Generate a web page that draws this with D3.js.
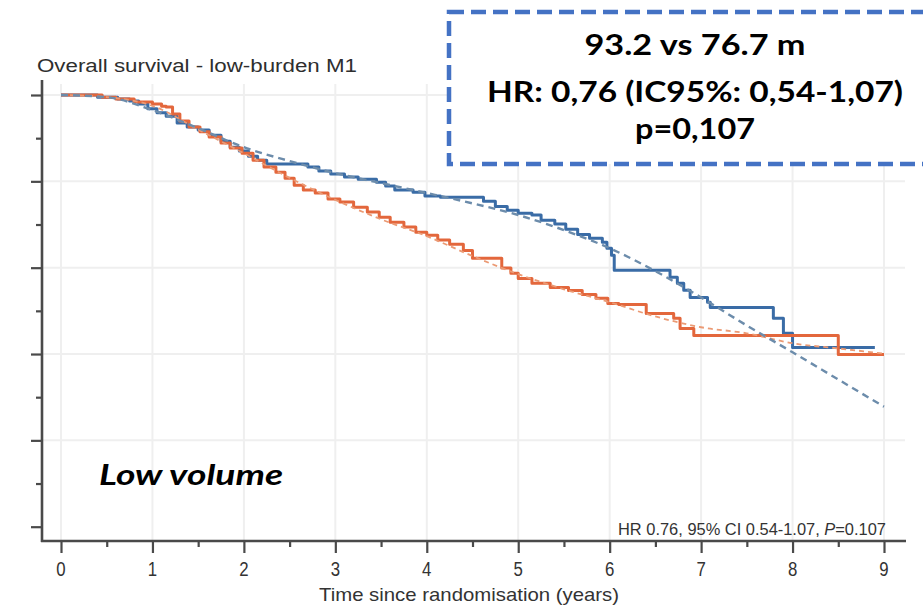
<!DOCTYPE html>
<html>
<head>
<meta charset="utf-8">
<script src="https://cdn.jsdelivr.net/npm/d3@7"></script>
<style>
  html, body { margin: 0; padding: 0; background: #fff; }
  svg { display: block; }
</style>
</head>
<body>
<svg id="chart" width="923" height="608"></svg>
<script>
// Kaplan-Meier steps: [years, survival] — survival holds from that time on
const blueSteps = [
  [0, 1.000], [0.40, 0.995], [0.62, 0.991], [0.75, 0.986], [0.85, 0.979], [0.95, 0.968],
  [1.05, 0.959], [1.15, 0.951], [1.27, 0.935], [1.38, 0.926], [1.50, 0.919], [1.62, 0.907],
  [1.75, 0.893], [1.85, 0.879], [1.95, 0.870], [2.05, 0.858], [2.15, 0.849], [2.25, 0.840],
  [2.70, 0.833], [2.82, 0.824], [2.95, 0.817], [3.10, 0.810], [3.25, 0.805], [3.45, 0.798],
  [3.55, 0.789], [3.65, 0.780], [3.85, 0.775], [3.98, 0.766], [4.15, 0.763], [4.62, 0.754],
  [4.75, 0.742], [4.88, 0.733], [5.00, 0.726], [5.15, 0.722], [5.25, 0.710], [5.40, 0.701],
  [5.52, 0.689], [5.65, 0.677], [5.78, 0.668], [5.92, 0.659], [5.97, 0.645], [6.02, 0.629],
  [6.05, 0.594], [6.66, 0.578], [6.74, 0.564], [6.81, 0.548], [6.88, 0.531], [7.07, 0.520],
  [7.10, 0.508], [7.79, 0.483], [7.90, 0.448], [8.00, 0.415]
];
const blueEnd = 8.9;

const orangeSteps = [
  [0, 1.000], [0.45, 0.995], [0.60, 0.991], [0.80, 0.984], [1.00, 0.979], [1.10, 0.974],
  [1.15, 0.972], [1.22, 0.956], [1.30, 0.940], [1.40, 0.926], [1.52, 0.915], [1.62, 0.903],
  [1.75, 0.889], [1.85, 0.877], [1.98, 0.865], [2.10, 0.849], [2.22, 0.833], [2.35, 0.821],
  [2.45, 0.807], [2.55, 0.791], [2.65, 0.780], [2.78, 0.773], [2.92, 0.759], [3.05, 0.752],
  [3.20, 0.740], [3.35, 0.729], [3.48, 0.717], [3.60, 0.705], [3.75, 0.694], [3.88, 0.682],
  [4.00, 0.675], [4.12, 0.664], [4.25, 0.654], [4.40, 0.640], [4.50, 0.622], [4.82, 0.599],
  [4.92, 0.587], [5.00, 0.575], [5.15, 0.564], [5.35, 0.554], [5.55, 0.547], [5.70, 0.538],
  [5.85, 0.529], [5.98, 0.517], [6.10, 0.515], [6.40, 0.494], [6.70, 0.483], [6.77, 0.459],
  [6.92, 0.443], [8.50, 0.399]
];
const orangeEnd = 9.0;

// Fitted (model) survival curves, sampled every half year
const fitTimes  = [0, 0.5, 1, 1.5, 2, 2.5, 3, 3.5, 4, 4.5, 5, 5.5, 6, 6.5, 7, 7.5, 8, 8.5, 9];
const blueFit   = [1.000, 0.995, 0.965, 0.923, 0.879, 0.847, 0.819, 0.796, 0.773, 0.749, 0.722,
                   0.687, 0.645, 0.592, 0.531, 0.466, 0.404, 0.341, 0.278];
const orangeFit = [1.000, 0.995, 0.975, 0.920, 0.865, 0.808, 0.757, 0.712, 0.673, 0.627, 0.585,
                   0.550, 0.520, 0.487, 0.462, 0.448, 0.425, 0.413, 0.401];

const xTickLabels = ["0", "1", "2", "3", "4", "5", "6", "7", "8", "9"];

const titleText = "Overall survival - low-burden M1";
const xAxisTitle = "Time since randomisation (years)";
const statsNote = ["HR 0.76, 95% CI 0.54-1.07, ", "P", "=0.107"];
const groupLabel = "Low volume";
const boxLines = ["93.2 vs 76.7 m", "HR: 0,76 (IC95%: 0,54-1,07)", "p=0,107"];

const BLUE = "#3a6ca6", ORANGE = "#e3673c";
const BLUE_FIT = "#6c8cab", ORANGE_FIT = "#eb9a74";
const AXIS = "#4a4a4a", GRID = "#efefef", TEXT = "#333333";
const FONT = "Liberation Sans, Arial, sans-serif";

const svg = d3.select("#chart");

const x = d3.scaleLinear().domain([0, 9]).range([61, 884]);
const y = d3.scaleLinear().domain([0, 1]).range([526.7, 95]);
const axisX = 42, axisY = 541;

// grid
const grid = svg.append("g");
grid.selectAll("line.v").data(d3.range(0, 10)).join("line")
  .attr("x1", d => x(d)).attr("x2", d => x(d))
  .attr("y1", 84).attr("y2", axisY)
  .attr("stroke", GRID).attr("stroke-width", 2);
grid.selectAll("line.h").data([0.2, 0.4, 0.6, 0.8, 1.0]).join("line")
  .attr("x1", axisX).attr("x2", 905)
  .attr("y1", d => y(d)).attr("y2", d => y(d))
  .attr("stroke", GRID).attr("stroke-width", 2);

// y axis (unlabelled ticks every 0.1)
const yAxis = d3.axisLeft(y).tickValues(d3.range(0, 11).map(i => i / 10)).tickFormat("").tickSizeOuter(0);
const gy = svg.append("g").attr("transform", `translate(${axisX},0)`).call(yAxis);
gy.select(".domain").remove();
gy.selectAll(".tick line")
  .attr("x2", (d, i) => (i % 2 === 0 ? -11 : -6))
  .attr("stroke", AXIS).attr("stroke-width", 2.2);

// x axis (ticks every half year, labels on whole years)
const xAxis = d3.axisBottom(x).tickValues(d3.range(0, 19).map(i => i / 2)).tickFormat("").tickSizeOuter(0);
const gx = svg.append("g").attr("transform", `translate(0,${axisY})`).call(xAxis);
gx.select(".domain").remove();
gx.selectAll(".tick line")
  .attr("y2", (d, i) => (i % 2 === 0 ? 12 : 6))
  .attr("stroke", AXIS).attr("stroke-width", 2.2);

svg.append("line").attr("x1", axisX).attr("x2", axisX).attr("y1", 80).attr("y2", axisY + 1)
  .attr("stroke", AXIS).attr("stroke-width", 2.6);
svg.append("line").attr("x1", axisX - 1).attr("x2", 906).attr("y1", axisY).attr("y2", axisY)
  .attr("stroke", AXIS).attr("stroke-width", 2.6);

// whole-year labels, drawn narrow and tall
svg.append("g").selectAll("g").data(xTickLabels).join("g")
  .attr("transform", (d, i) => `translate(${x(i)},576) scale(0.8,1)`)
  .append("text")
  .attr("text-anchor", "middle")
  .attr("font-family", FONT)
  .attr("font-size", 21).attr("fill", TEXT)
  .text(d => d);

svg.append("text")
  .attr("x", 469).attr("y", 601).attr("text-anchor", "middle")
  .attr("font-family", FONT)
  .attr("font-size", 18.5).attr("fill", TEXT)
  .attr("textLength", 300).attr("lengthAdjust", "spacingAndGlyphs")
  .text(xAxisTitle);

svg.append("text")
  .attr("x", 37).attr("y", 72)
  .attr("font-family", FONT)
  .attr("font-size", 17.5).attr("fill", "#2e2e2e")
  .attr("textLength", 320).attr("lengthAdjust", "spacingAndGlyphs")
  .text(titleText);

// survival curves
const stepLine = d3.line().x(d => x(d[0])).y(d => y(d[1])).curve(d3.curveStepAfter);
const withEnd = (steps, end) => steps.concat([[end, steps[steps.length - 1][1]]]);

svg.append("path").datum(withEnd(blueSteps, blueEnd))
  .attr("d", stepLine).attr("fill", "none")
  .attr("stroke", BLUE).attr("stroke-width", 3).attr("stroke-linejoin", "round");
svg.append("path").datum(withEnd(orangeSteps, orangeEnd))
  .attr("d", stepLine).attr("fill", "none")
  .attr("stroke", ORANGE).attr("stroke-width", 3).attr("stroke-linejoin", "round");

const fitLine = d3.line().x(d => x(d[0])).y(d => y(d[1])).curve(d3.curveMonotoneX);
svg.append("path").datum(fitTimes.map((t, i) => [t, orangeFit[i]]))
  .attr("d", fitLine).attr("fill", "none")
  .attr("stroke", ORANGE_FIT).attr("stroke-width", 1.8).attr("stroke-dasharray", "5,4");
svg.append("path").datum(fitTimes.map((t, i) => [t, blueFit[i]]))
  .attr("d", fitLine).attr("fill", "none")
  .attr("stroke", BLUE_FIT).attr("stroke-width", 2.4).attr("stroke-dasharray", "7,5");

// statistics footnote
const note = svg.append("text")
  .attr("x", 886).attr("y", 535).attr("text-anchor", "end")
  .attr("font-family", FONT)
  .attr("font-size", 16.5).attr("fill", TEXT)
  .attr("textLength", 268).attr("lengthAdjust", "spacingAndGlyphs");
note.append("tspan").text(statsNote[0]);
note.append("tspan").attr("font-style", "italic").text(statsNote[1]);
note.append("tspan").text(statsNote[2]);

// group label
svg.append("text")
  .attr("x", 99).attr("y", 485)
  .attr("font-family", "Lato, 'Open Sans', sans-serif")
  .attr("font-weight", "bold").attr("font-style", "italic")
  .attr("font-size", 29).attr("fill", "#000")
  .attr("textLength", 184).attr("lengthAdjust", "spacingAndGlyphs")
  .text(groupLabel);

// summary box
svg.append("rect")
  .attr("x", 449).attr("y", 12).attr("width", 520).attr("height", 152)
  .attr("fill", "#fff").attr("stroke", "#4472c4").attr("stroke-width", 4.5)
  .attr("stroke-dasharray", "15,7");

const boxLayout = [
  { y: 55, w: 221 },
  { y: 102, w: 416 },
  { y: 139, w: 120 }
];
svg.append("g").selectAll("text").data(boxLines).join("text")
  .attr("x", 695)
  .attr("y", (d, i) => boxLayout[i].y)
  .attr("text-anchor", "middle")
  .attr("font-family", "Lato, 'Open Sans', sans-serif")
  .attr("font-weight", "bold").attr("font-size", 28).attr("fill", "#000")
  .attr("textLength", (d, i) => boxLayout[i].w).attr("lengthAdjust", "spacingAndGlyphs")
  .text(d => d);
</script>
</body>
</html>
